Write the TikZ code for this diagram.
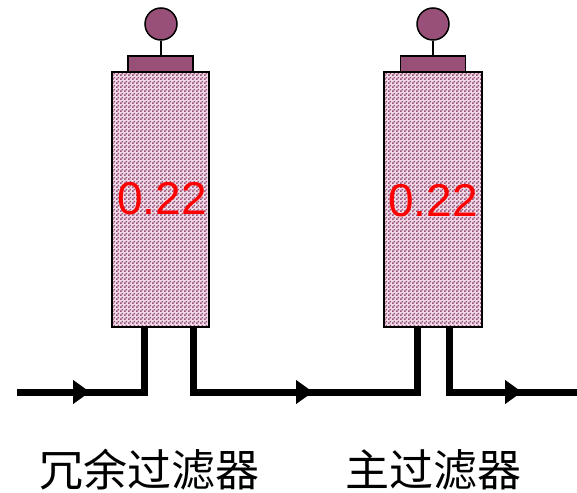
\documentclass[tikz,border=0pt]{standalone}
\usepackage{fontspec}
\setmainfont{Liberation Sans}
\newfontfamily\cjk{Noto Sans CJK SC}
\usetikzlibrary{arrows.meta,decorations.markings,patterns.meta}
\definecolor{plum}{RGB}{153,80,120}
\definecolor{bodyback}{RGB}{240,220,232}
% fine checkerboard texture of the filter housings
\pgfdeclarepattern{
  name=finechecker, type=uncolored,
  bottom left={\pgfpoint{0pt}{0pt}}, top right={\pgfpoint{4pt}{4pt}},
  tile size={\pgfpoint{4pt}{4pt}},
  code={
    \pgfpathrectangle{\pgfpoint{0pt}{0pt}}{\pgfpoint{2pt}{2pt}}
    \pgfpathrectangle{\pgfpoint{2pt}{2pt}}{\pgfpoint{2pt}{2pt}}
    \pgfusepath{fill}
  }}
\begin{document}
\begin{tikzpicture}[x=1pt,y=-1pt,
  body/.style={draw=black, line width=2pt, preaction={fill=bodyback},
    pattern=finechecker, pattern color=plum, inner sep=0pt,
    minimum height=255pt},
  lid/.style={draw=black, line width=1.5pt, fill=plum, inner sep=0pt,
    minimum width=65pt, minimum height=16pt},
  knob/.style={circle, draw=black, line width=1.5pt, fill=plum, inner sep=0pt,
    minimum size=32pt},
  stem/.style={line width=1.5pt},
  rating/.style={text=red, font=\fontsize{46}{50}\selectfont, inner sep=0pt},
  caption/.style={font=\cjk\fontsize{44}{48}\selectfont, inner sep=0pt},
  pipe/.style={line width=7pt, line join=miter},
  flow/.style={pipe, postaction=decorate, decoration={markings,
    mark=at position #1 with {\arrow{Triangle[length=17pt,width=23pt]}}}}
]
\useasboundingbox (0,0) rectangle (577,492);

% redundant filter
\node[body, minimum width=97pt] (f1) at (160.5,199.5) {};
\node[lid] (c1) at (160.5,64) {};
\node[knob] (k1) at (161,24) {};
\draw[stem] (c1.north -| k1) -- (k1.south);
\node[rating] (r1) at (162,199) {0.22};
\node[caption] (t1) at (149,470) {冗余过滤器};

% main filter
\node[body, minimum width=98pt] (f2) at (433,199.5) {};
\node[lid] (c2) at (433,64) {};
\node[knob] (k2) at (433,24) {};
\draw[stem] (c2.north -| k2) -- (k2.south);
\node[rating] (r2) at (433,201) {0.22};
\node[caption] (t2) at (433,470) {主过滤器};

% piping
\coordinate (base) at (0,392);
\coordinate (inlet) at (17,392);
\coordinate (outlet) at (577,392);
\coordinate (f1in) at (144,328);
\coordinate (f1out) at (193,328);
\coordinate (f2in) at (417,328);
\coordinate (f2out) at (449,328);

\draw[flow=73pt] (inlet) -- (f1in |- base) -- (f1in);
\draw[flow=184pt] (f1out) -- (f1out |- base) -- (f2in |- base) -- (f2in);
\draw[flow=137pt] (f2out) -- (f2out |- base) -- (outlet);
\end{tikzpicture}
\end{document}
